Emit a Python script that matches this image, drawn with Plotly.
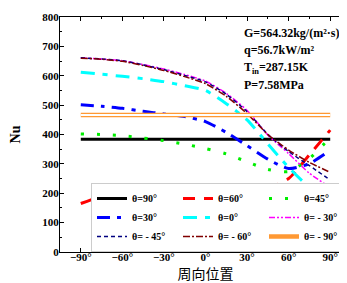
import plotly.graph_objects as go

pos = [-90, -75, -60, -45, -30, -15, 0, 15, 30, 45, 60, 75, 90]

nu_p90 = [384] * 13
nu_p60 = [165, 190, 207, 218, 221, 221, 220, 218, 212, 216, 250, 331, 415]
nu_p45 = [402, 400, 396, 388, 379, 367, 352, 334, 307, 281, 274, 318, 390]
nu_p30 = [501, 496, 489, 479, 470, 461, 444, 407, 362, 316, 284, 301, 346]
nu_0 = [612, 605, 598, 590, 580, 566, 550, 505, 450, 368, 288, 220, 176]
nu_m30 = [661, 657, 651, 638, 623, 604, 582, 540, 482, 398, 335, 268, 220]
nu_m45 = [661, 657, 651, 637, 621, 601, 579, 537, 478, 400, 342, 294, 245]
nu_m60 = [660, 656, 649, 635, 618, 597, 573, 530, 471, 400, 347, 305, 271]
nu_m90 = [466] * 13

names = ["θ=90°", "θ=60°", "θ=45°", "θ=30°", "θ=0°", "θ= - 30°",
         "θ= - 45°", "θ= - 60°", "θ= - 90°"]

serif = "Liberation Serif"

fig = go.Figure()

styles = [
    (nu_p90, "#000000", 3, "solid"),
    (nu_p60, "#FF0000", 3, "12px,9px"),
    (nu_p45, "#00EE00", 3, "3px,13px"),
    (nu_p30, "#0000FF", 3, "13px,7px,4px,7px"),
    (nu_0, "#00FFFF", 3, "14px,8px,5px,8px"),
    (nu_m30, "#FF00FF", 1.5, "6px,2px,2px,2px,2px,2px"),
    (nu_m45, "#000080", 1.5, "4px,3px"),
    (nu_m60, "#800000", 1.5, "7px,2px,2px,2px"),
]

for (vals, col, w, dash), nm in zip(styles, names[:8]):
    fig.add_trace(go.Scatter(x=pos, y=vals, mode="lines", name=nm,
                             line=dict(color=col, width=w, dash=dash,
                                       shape="spline", smoothing=0.6)))

fig.add_trace(go.Scatter(x=pos, y=nu_m90, mode="lines", name=names[8],
                         line=dict(color="#FF9933", width=4.5)))
fig.add_trace(go.Scatter(x=pos, y=nu_m90, mode="lines", showlegend=False,
                         line=dict(color="#FFFFFF", width=2)))

ann = ["G=564.32kg/(m²·s)", "q=56.7kW/m²", "T<sub>in</sub>=287.15K", "P=7.58MPa"]
ann_y = [746, 687, 627, 568]
for t, yy in zip(ann, ann_y):
    fig.add_annotation(x=26, y=yy, xref="x", yref="y", text="<b>" + t + "</b>",
                       showarrow=False, xanchor="left", yanchor="middle",
                       font=dict(family=serif, size=12, color="black"))

axis_common = dict(showline=True, linecolor="black", linewidth=1, mirror="ticks",
                   ticks="inside", ticklen=4, tickcolor="black", showgrid=False,
                   zeroline=False,
                   tickfont=dict(family=serif, size=11, color="black", weight="bold"))

fig.update_xaxes(range=[-105, 105], tick0=0, dtick=30, ticksuffix="°",
                 ticklabelstandoff=-5,
                 minor=dict(ticks="inside", ticklen=2, dtick=15, tick0=0, tickcolor="black"),
                 title=dict(text="周向位置", font=dict(family="Noto Sans CJK SC", size=14, color="black"),
                            standoff=2),
                 **axis_common)
fig.update_yaxes(range=[0, 800], dtick=100, ticklabelstandoff=-2,
                 minor=dict(ticks="inside", ticklen=2, dtick=50, tickcolor="black"),
                 title=dict(text="<b>Nu</b>", font=dict(family=serif, size=14, color="black"),
                            standoff=19),
                 **axis_common)

fig.update_layout(
    width=347, height=283,
    margin=dict(l=52, r=4, t=9, b=39),
    plot_bgcolor="white", paper_bgcolor="white",
    showlegend=True,
    legend=dict(orientation="h", x=1, y=0, xanchor="right", yanchor="bottom",
                bgcolor="white", bordercolor="#CCCCCC", borderwidth=1,
                font=dict(family=serif, size=10, color="black", weight="bold"),
                entrywidth=41, itemwidth=30, tracegroupgap=0,
                traceorder="normal"),
)

fig.write_html("out.html")
